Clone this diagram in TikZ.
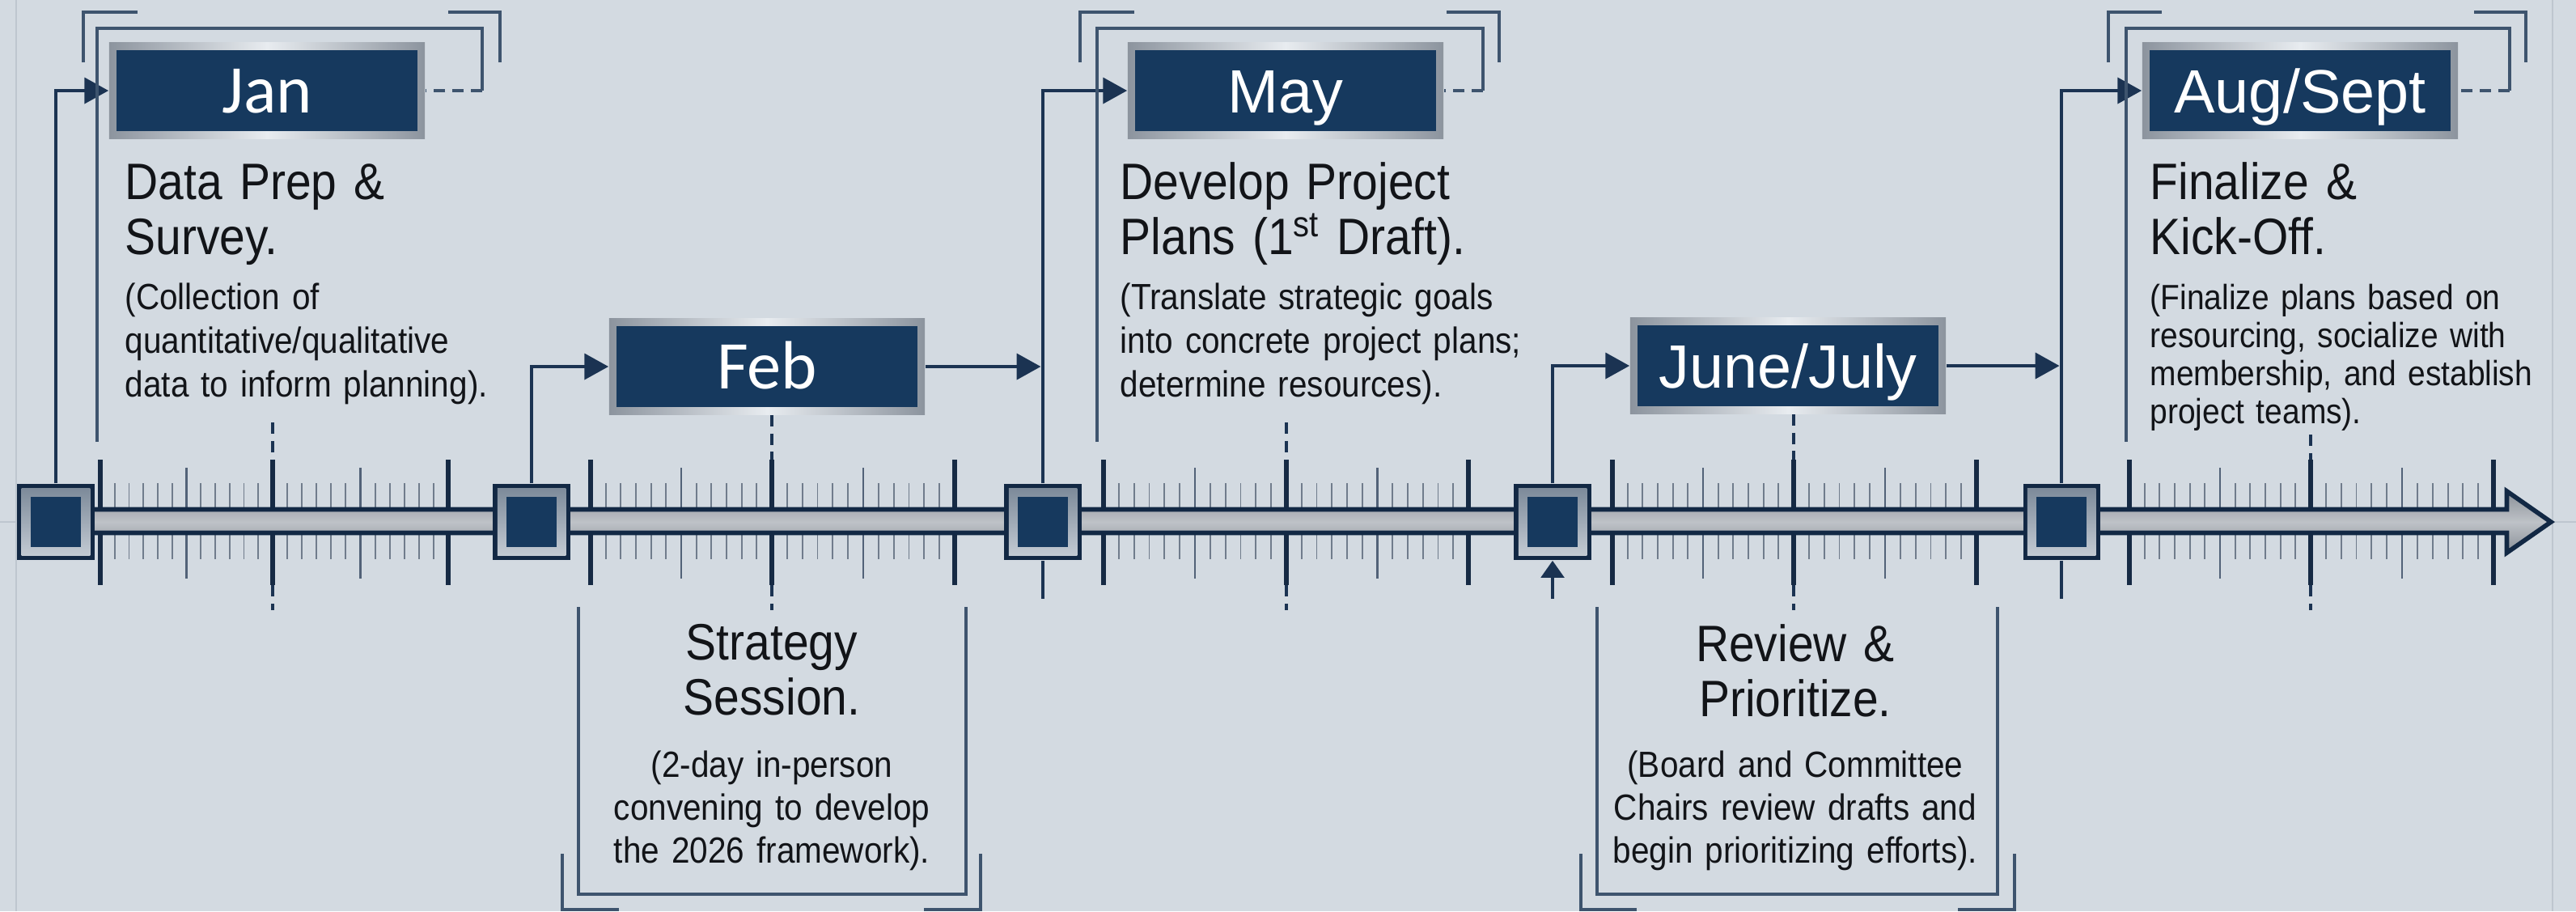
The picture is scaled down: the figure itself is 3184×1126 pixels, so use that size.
\documentclass[tikz,border=0pt]{standalone}
\usepackage{fontspec}
\setmainfont{Liberation Sans}
\newfontfamily\narrowfont{Liberation Sans}[FakeStretch=0.9]
\newfontfamily\calfont{Carlito}
\usetikzlibrary{arrows.meta}

\definecolor{bg}{RGB}{211,218,225}
\definecolor{navy}{RGB}{22,57,94}
\definecolor{sqdark}{RGB}{18,40,68}
\definecolor{ink}{RGB}{18,20,24}
\definecolor{linedark}{RGB}{27,51,82}
\definecolor{brk}{RGB}{62,84,110}
\definecolor{tickdark}{RGB}{22,42,68}
\definecolor{tickmid}{RGB}{82,98,120}
\definecolor{tickminor}{RGB}{112,124,140}
\definecolor{silverD}{RGB}{140,148,158}
\definecolor{silverL}{RGB}{232,236,240}
\definecolor{sqframeA}{RGB}{120,134,150}
\definecolor{sqframeB}{RGB}{200,207,215}
\definecolor{barA}{RGB}{138,144,152}
\definecolor{barB}{RGB}{190,194,199}
\definecolor{faint}{RGB}{190,198,207}

\begin{document}
\begin{tikzpicture}[x=0.01cm,y=-0.01cm,
  conn/.style={draw=linedark,line width=1.4pt},
  tip/.style={-{Triangle[length=8.5pt,width=9pt]}},
  bracket/.style={draw=brk,line width=0.9pt},
  guide/.style={draw=linedark,line width=1.1pt,dash pattern=on 4pt off 2.5pt},
  major/.style={draw=tickdark,line width=1.6pt},
  medium/.style={draw=tickmid,line width=0.8pt},
  minor/.style={draw=tickminor,line width=0.55pt},
  month/.style={rectangle,inner sep=0pt,minimum width=3.9cm,minimum height=1.18cm,
    left color=silverD,right color=silverD,middle color=silverL,
    path picture={\fill[navy]
      ([shift={(2.6pt,-2.6pt)}]path picture bounding box.north west) rectangle
      ([shift={(-2.6pt,2.6pt)}]path picture bounding box.south east);},
    text=white,text height=15.5pt,text depth=0pt},
  calmonth/.style={month,font=\calfont\fontsize{24}{26}\selectfont},
  sansmonth/.style={month,font=\fontsize{21.5}{24}\selectfont},
  mile/.style={rectangle,inner sep=0pt,minimum width=0.95cm,minimum height=0.94cm,fill=sqdark,
    path picture={
      \shade[top color=sqframeA,bottom color=sqframeB]
        ([shift={(1.5pt,-1.5pt)}]path picture bounding box.north west) rectangle
        ([shift={(-1.5pt,1.5pt)}]path picture bounding box.south east);
      \fill[navy]
        ([shift={(4.6pt,-4.6pt)}]path picture bounding box.north west) rectangle
        ([shift={(-4.6pt,4.6pt)}]path picture bounding box.south east);}},
  ttl/.style={font=\narrowfont\fontsize{18}{19.6}\selectfont,text=ink,inner sep=0pt,
    anchor=base west,align=left,text width=6cm},
  sub/.style={font=\narrowfont\fontsize{12.8}{15.4}\selectfont,text=ink,inner sep=0pt,
    anchor=base west,align=left,text width=6cm},
  ttlc/.style={ttl,anchor=base,align=center},
  subc/.style={sub,anchor=base,align=center,font=\narrowfont\fontsize{12.8}{15.1}\selectfont},
  faintline/.style={draw=faint,line width=0.5pt}
]
\useasboundingbox (0,0) rectangle (3184,1126);
\fill[bg] (0,0) rectangle (3184,1126);

% faint panel guides
\draw[faintline] (20,0) -- (20,1126);
\draw[faintline] (3155,0) -- (3155,1126);
\draw[faintline] (0,645) -- (21,645);
\draw[faintline] (3157,645) -- (3184,645);

% ruler ticks: major / medium / minor
\foreach \a/\b/\c in {124/337/554, 730/954/1180, 1364/1590/1815, 1993/2217/2443, 2632/2856/3082}{
  \pgfmathsetmacro{\tmA}{(\a+\b)/2}
  \pgfmathsetmacro{\tmB}{(\b+\c)/2}
  \foreach \k in {1,...,5}{
    \draw[minor] ({\a+\k*(\tmA-\a)/6},597) -- ++(0,94);
    \draw[minor] ({\tmA+\k*(\b-\tmA)/6},597) -- ++(0,94);
    \draw[minor] ({\b+\k*(\tmB-\b)/6},597) -- ++(0,94);
    \draw[minor] ({\tmB+\k*(\c-\tmB)/6},597) -- ++(0,94);
  }
  \draw[medium] (\tmA,578) -- (\tmA,715);
  \draw[medium] (\tmB,578) -- (\tmB,715);
  \draw[major] (\a,568) -- (\a,723);
  \draw[major] (\b,568) -- (\b,723);
  \draw[major] (\c,568) -- (\c,723);
}

% main timeline bar with arrow head
\draw[draw=sqdark,line width=1.6pt,top color=barA,bottom color=barA,middle color=barB]
  (69,629.5) -- (3098.5,629.5) -- (3098.5,607) -- (3153,645) -- (3098.5,683)
  -- (3098.5,658.5) -- (69,658.5) -- cycle;

% milestones
\node[mile] (m1) at (69,645) {};
\node[mile] (m2) at (657,645) {};
\node[mile] (m3) at (1289,645) {};
\node[mile] (m4) at (1919,645) {};
\node[mile] (m5) at (2548,645) {};

% month labels
\node[calmonth] (jan) at (330,112) {Jan};
\node[calmonth] (feb) at (948,453) {Feb};
\node[sansmonth] (may) at (1589,112) {May};
\node[sansmonth] (jun) at (2210,452) {June/July};
\node[sansmonth] (aug) at (2843,112) {Aug/Sept};

% connectors from milestones to labels
\draw[conn,tip] (m1.north) |- (jan.west);
\draw[conn,tip] (m2.north) |- (feb.west);
\draw[conn,tip,shorten >=0.7pt] (feb.east) -- (feb.east -| m3.north);
\draw[conn,tip] (m3.north) |- (may.west);
\draw[conn,tip] (m4.north) |- (jun.west);
\draw[conn,tip,shorten >=0.7pt] (jun.east) -- (jun.east -| m5.north);
\draw[conn,tip] (m5.north) |- (aug.west);
\coordinate (d3) at (1289,740);
\coordinate (d5) at (2548,740);
\coordinate (u4) at (1919,740);
\draw[conn] (m3.south) -- (d3);
\draw[conn] (m5.south) -- (d5);
\draw[conn,-{Triangle[length=6pt,width=8pt]}] (u4) -- (m4.south);

% dashed guides at the middle major ticks
\foreach \x/\y in {337/522, 1590/522, 2856/537}{
  \draw[guide] (\x,\y) -- (\x,568);
}
\coordinate (g2) at (954,568);
\coordinate (g4) at (2217,568);
\draw[guide] (feb.south -| g2) -- (g2);
\draw[guide] (jun.south -| g4) -- (g4);
\foreach \x in {337,954,1590,2217,2856}{
  \draw[guide] (\x,723) -- (\x,754);
}

% top brackets
\coordinate (jb) at (596,112);
\draw[bracket] (120,546) |- (jb |- 0,35) -- (jb);
\draw[bracket,dash pattern=on 4pt off 2.5pt] (jb) -- (jan.east);
\draw[bracket] (103,77) |- (170,15);
\draw[bracket] (554,15) -| (618,77);

\coordinate (mb) at (1833,112);
\draw[bracket] (1356,546) |- (mb |- 0,35) -- (mb);
\draw[bracket,dash pattern=on 4pt off 2.5pt] (mb) -- (may.east);
\draw[bracket] (1335,77) |- (1402,15);
\draw[bracket] (1788,15) -| (1853,77);

\coordinate (ab) at (3102,112);
\draw[bracket] (2628,546) |- (ab |- 0,35) -- (ab);
\draw[bracket,dash pattern=on 4pt off 2.5pt] (ab) -- (aug.east);
\draw[bracket] (2606,77) |- (2672,15);
\draw[bracket] (3058,15) -| (3122,77);

% bottom brackets
\draw[bracket] (715,750) -- (715,1105) -- (1194,1105) -- (1194,750);
\draw[bracket] (695,1055) |- (765,1124);
\draw[bracket] (1142,1124) -| (1212,1055);
\draw[bracket] (1974,750) -- (1974,1105) -- (2469,1105) -- (2469,750);
\draw[bracket] (1954,1055) |- (2023,1124);
\draw[bracket] (2420,1124) -| (2490,1055);

% phase descriptions
\node[ttl] (t1) at (154,246) {Data Prep \&\\Survey.};
\node[sub] (s1) at (154,382) {(Collection of\\quantitative/qualitative\\data to inform planning).};

\node[ttl] (t3) at (1384,246) {Develop Project\\Plans (1\textsuperscript{st} Draft).};
\node[sub] (s3) at (1384,382) {(Translate strategic goals\\into concrete project plans;\\determine resources).};

\node[ttl] (t5) at (2657,246) {Finalize \&\\Kick-Off.};
\node[sub,font=\narrowfont\fontsize{12.3}{13.4}\selectfont] (s5) at (2657,382)
  {(Finalize plans based on\\resourcing, socialize with\\membership, and establish\\project teams).};

\node[ttlc] (t2) at (954,815) {Strategy\\Session.};
\node[subc] (s2) at (954,960) {(2-day in-person\\convening to develop\\the 2026 framework).};

\node[ttlc] (t4) at (2219,817) {Review \&\\Prioritize.};
\node[subc] (s4) at (2219,960) {(Board and Committee\\Chairs review drafts and\\begin prioritizing efforts).};
\end{tikzpicture}
\end{document}
